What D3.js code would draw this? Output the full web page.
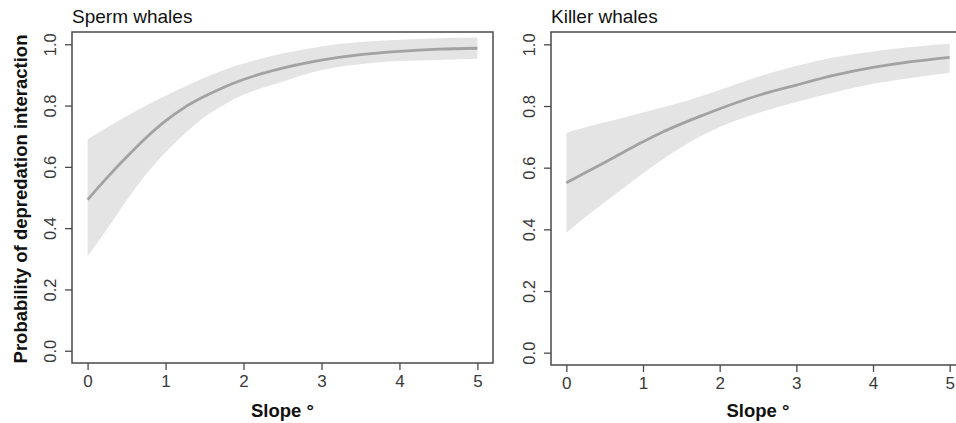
<!DOCTYPE html>
<meta charset="utf-8" />
<script src="https://d3js.org/d3.v7.min.js"></script>
<style>
  body { margin: 0; background: #fff; }
  text { font-family: Arial, "Liberation Sans", sans-serif; }
</style>
<body>
  <div id="my_dataviz"></div>
</body>
<script>
  // slope values (degrees) where the curves were read
  var slopes = [0, 0.25, 0.5, 0.75, 1, 1.25, 1.5, 1.75, 2, 2.5, 3, 3.5, 4, 4.5, 5];

  // Sperm whales: fitted probability and confidence band
  var spermFit = [0.493, 0.565, 0.632, 0.695, 0.75, 0.795, 0.83, 0.86, 0.885, 0.922, 0.948, 0.966, 0.977, 0.984, 0.987];
  var spermUpper = [0.69, 0.728, 0.765, 0.8, 0.832, 0.862, 0.891, 0.916, 0.937, 0.97, 0.993, 1.007, 1.015, 1.02, 1.022];
  var spermLower = [0.308, 0.397, 0.49, 0.576, 0.648, 0.71, 0.763, 0.803, 0.835, 0.878, 0.916, 0.935, 0.945, 0.949, 0.953];

  // Killer whales: fitted probability and confidence band
  var killerFit = [0.551, 0.584, 0.617, 0.651, 0.684, 0.715, 0.742, 0.767, 0.791, 0.834, 0.868, 0.9, 0.925, 0.944, 0.958];
  var killerUpper = [0.713, 0.731, 0.747, 0.763, 0.779, 0.795, 0.812, 0.831, 0.852, 0.895, 0.93, 0.958, 0.977, 0.991, 1.002];
  var killerLower = [0.389, 0.44, 0.488, 0.535, 0.582, 0.626, 0.666, 0.702, 0.732, 0.777, 0.813, 0.845, 0.872, 0.891, 0.908];

  var xTicks = [0, 1, 2, 3, 4, 5];
  var yTicks = [0, 0.2, 0.4, 0.6, 0.8, 1.0];

  var svg = d3
    .select("#my_dataviz")
    .append("svg")
    .attr("width", 956)
    .attr("height", 423);

  // panel boxes (frame in pixels)
  var panels = [
    { title: "Sperm whales", fit: spermFit, up: spermUpper, lo: spermLower, left: 72, right: 493, top: 32, bottom: 363 },
    { title: "Killer whales", fit: killerFit, up: killerUpper, lo: killerLower, left: 551, right: 965, top: 32, bottom: 365 }
  ];

  panels.forEach(function (p) {
    var x = d3.scaleLinear().domain([-0.2, 5.2]).range([p.left, p.right]);
    var y = d3.scaleLinear().domain([-0.04, 1.04]).range([p.bottom, p.top]);
    var pts = slopes.map(function (s, i) {
      return { s: s, fit: p.fit[i], up: p.up[i], lo: p.lo[i] };
    });

    var g = svg.append("g");

    // confidence band
    g.append("path")
      .datum(pts)
      .attr("fill", "#e4e4e4")
      .attr("d", d3.area()
        .x(function (d) { return x(d.s); })
        .y0(function (d) { return y(d.lo); })
        .y1(function (d) { return y(d.up); })
        .curve(d3.curveMonotoneX));

    // fitted line
    g.append("path")
      .datum(pts)
      .attr("fill", "none")
      .attr("stroke", "#a2a2a2")
      .attr("stroke-width", 2.8)
      .attr("d", d3.line()
        .x(function (d) { return x(d.s); })
        .y(function (d) { return y(d.fit); })
        .curve(d3.curveMonotoneX));

    // frame
    g.append("rect")
      .attr("x", p.left)
      .attr("y", p.top)
      .attr("width", p.right - p.left)
      .attr("height", p.bottom - p.top)
      .attr("fill", "none")
      .attr("stroke", "#4a4a4a")
      .attr("stroke-width", 1.5);

    // x axis
    var xAxis = g.append("g")
      .attr("transform", "translate(0," + p.bottom + ")")
      .call(d3.axisBottom(x).tickValues(xTicks).tickSize(7).tickPadding(5).tickFormat(d3.format("d")));
    xAxis.select(".domain").remove();
    xAxis.selectAll(".tick line").attr("stroke", "#4a4a4a").attr("stroke-width", 1.3);
    xAxis.selectAll(".tick text")
      .attr("fill", "#3a3a3a")
      .style("font-size", "17px")
      .style("font-family", "Arial, 'Liberation Sans', sans-serif");

    // y axis, labels rotated like base R
    var yAxis = g.append("g")
      .attr("transform", "translate(" + p.left + ",0)")
      .call(d3.axisLeft(y).tickValues(yTicks).tickSize(7).tickFormat(d3.format(".1f")));
    yAxis.select(".domain").remove();
    yAxis.selectAll(".tick line").attr("stroke", "#4a4a4a").attr("stroke-width", 1.3);
    yAxis.selectAll(".tick text")
      .attr("fill", "#3a3a3a")
      .attr("x", null)
      .attr("text-anchor", "middle")
      .attr("transform", "translate(-16,0) rotate(-90)")
      .attr("dy", "0")
      .style("font-size", "16.5px")
      .style("font-family", "Arial, 'Liberation Sans', sans-serif");

    // panel title
    g.append("text")
      .attr("x", p.left)
      .attr("y", 23)
      .attr("font-size", "19px")
      .attr("fill", "#111")
      .text(p.title);

    // x axis title
    g.append("text")
      .attr("x", (x(0) + x(5)) / 2)
      .attr("y", 417)
      .attr("text-anchor", "middle")
      .attr("font-size", "18.5px")
      .attr("font-weight", "bold")
      .attr("fill", "#111")
      .text("Slope \u00b0");
  });

  // shared y axis title
  svg.append("text")
    .attr("transform", "translate(27,199) rotate(-90)")
    .attr("text-anchor", "middle")
    .attr("font-size", "18.5px")
    .attr("font-weight", "bold")
    .attr("fill", "#111")
    .text("Probability of depredation interaction");
</script>
